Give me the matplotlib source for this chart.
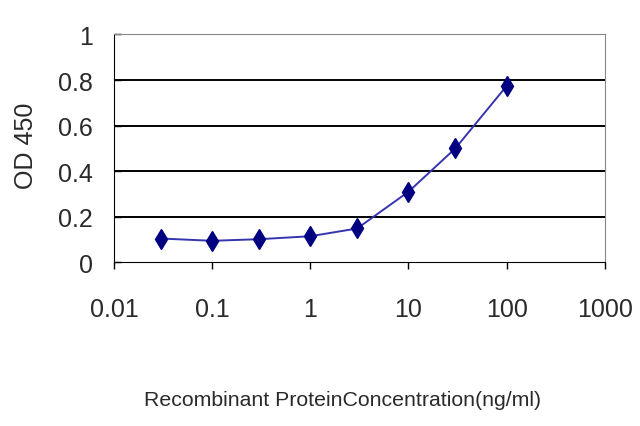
import matplotlib
matplotlib.use("Agg")
import matplotlib.pyplot as plt

conc = [0.03, 0.1, 0.3, 1, 3, 10, 30, 100]
od450 = [0.105, 0.095, 0.102, 0.115, 0.149, 0.31, 0.50, 0.774]
xticks = [0.01, 0.1, 1, 10, 100, 1000]
xtick_labels = ["0.01", "0.1", "1", "10", "100", "1000"]
yticks = [0, 0.2, 0.4, 0.6, 0.8, 1]
ytick_labels = ["0", "0.2", "0.4", "0.6", "0.8", "1"]

plt.rcParams['font.family'] = ['Liberation Sans', 'DejaVu Sans']

fig = plt.figure(figsize=(6.4, 4.27), dpi=100)
ax = fig.add_axes([0.178, 0.383, 0.767, 0.534])
ax.set_xscale('log')
ax.set_xlim(0.01, 1000)
ax.set_ylim(0, 1)

for y in yticks[1:-1]:
    ax.axhline(y, color='black', lw=1.4, zorder=1)

ax.plot(conc, od450, color='#3535b0', lw=1.4, marker='d', markersize=10,
        markerfacecolor='#000080', markeredgecolor='#000080', zorder=3)

ax.set_xticks(xticks)
ax.set_xticklabels(xtick_labels, fontsize=18, color='#2a2a2a')
ax.minorticks_off()
ax.set_yticks(yticks)
ax.set_yticklabels(ytick_labels, fontsize=18, color='#2a2a2a')
ax.tick_params(axis='x', direction='out', length=5, width=1, pad=20)
ax.tick_params(axis='y', direction='in', length=5, width=1, pad=15)

ax.spines['top'].set_color('#888888')
ax.spines['right'].set_color('#888888')
ax.spines['left'].set_color('black')
ax.spines['bottom'].set_color('black')

fig.text(0.041, 0.658, "OD 450", rotation=90, ha='center', va='center', fontsize=18, color='#2a2a2a')
fig.text(0.535, 0.062, "Recombinant ProteinConcentration(ng/ml)", ha='center', va='center',
         fontsize=15.3, color='#2a2a2a')

fig.savefig("out.png", dpi=100)
